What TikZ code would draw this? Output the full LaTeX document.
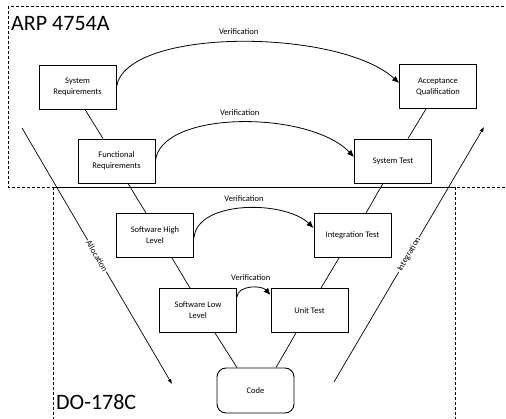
\documentclass[tikz,border=0pt]{standalone}
\usepackage{fontspec}
\setmainfont{Carlito}
\usetikzlibrary{arrows.meta}
\begin{document}
\begin{tikzpicture}[x=1pt,y=-1pt,
  stagebox/.style={draw,line width=0.9pt,fill=white,minimum width=77pt,minimum height=44pt,
    align=center,inner sep=2pt,font=\fontsize{8.5}{11}\selectfont},
  codebox/.style={stagebox,rounded corners=9pt,minimum height=45pt},
  link/.style={line width=0.7pt},
  verif/.style={line width=0.8pt,-{Latex[length=7pt,width=6pt]}},
  flow/.style={line width=0.7pt,-{Latex[length=5pt,width=4pt]}},
  lbl/.style={font=\fontsize{8.5}{10}\selectfont,inner sep=1pt},
  region/.style={draw,line width=0.8pt,dash pattern=on 3pt off 2pt},
  regionname/.style={font=\fontsize{22}{24}\selectfont,anchor=west,inner sep=0pt}]
\useasboundingbox (0,0) rectangle (506,419);
\begin{scope}
  \clip (0,0) rectangle (506,419);
  % standard regions
  \draw[region] (8,6) rectangle (530,187);
  \draw[region] (53,187) rectangle (455,440);
\end{scope}
\node[regionname] (arp) at (11,24) {ARP 4754A};
\node[regionname] (do) at (56,402) {DO-178C};

% left leg of the V
\node[stagebox] (sr) at (77.5,87) {System\\Requirements};
\node[stagebox] (fr) at (116.5,161) {Functional\\Requirements};
\node[stagebox] (sh) at (155,235.5) {Software High\\Level};
\node[stagebox] (sl) at (198,310.5) {Software Low\\Level};
% bottom
\node[codebox] (code) at (255.5,390.5) {Code};
% right leg of the V
\node[stagebox] (ut) at (309.5,310.5) {Unit Test};
\node[stagebox] (it) at (352.5,235.5) {Integration Test};
\node[stagebox] (st) at (393,161) {System Test};
\node[stagebox] (aq) at (438,86.5) {Acceptance\\Qualification};

% links down the left leg
\draw[link] ([xshift=7.5pt]sr.south) -- ([xshift=-13.5pt]fr.north);
\draw[link] ([xshift=11.5pt]fr.south) -- ([xshift=-9pt]sh.north);
\draw[link] ([xshift=17pt]sh.south) -- ([xshift=-8pt]sl.north);
\draw[link] ([xshift=17pt]sl.south) -- ([xshift=-18.5pt]code.north);
% links up the right leg
\draw[link] ([xshift=20.5pt]code.north) -- ([xshift=-13.5pt]ut.south);
\draw[link] ([xshift=11.5pt]ut.north) -- ([xshift=-13.5pt]it.south);
\draw[link] ([xshift=13.5pt]it.north) -- ([xshift=-10pt]st.south);
\draw[link] ([xshift=15pt]st.north) -- ([xshift=-12pt]aq.south);

% verification arcs
\draw[verif] (sr.east) .. controls +(9,-60) and +(-60,-55) .. ([yshift=3.5pt]aq.west)
  node[lbl,pos=0.5,above=6pt] (v1) {Verification};
\draw[verif] (fr.east) .. controls +(5,-51) and +(-45,-47) .. ([yshift=4pt]st.west)
  node[lbl,pos=0.5,above=5pt] (v2) {Verification};
\draw[verif] ([yshift=-2.5pt]sh.east) .. controls +(3,-38) and +(-29,-28) .. ([yshift=7.5pt]it.west)
  node[lbl,pos=0.5,above=5pt] (v3) {Verification};
\draw[verif] ([yshift=13.5pt]sl.east) .. controls +(1,-12) and +(-9,-10) .. ([yshift=15.5pt]ut.west)
  node[lbl,pos=0.5,above=6pt] (v4) {Verification};

% allocation and integration flows
\coordinate (allocA) at (22,128);
\coordinate (allocB) at (172,384);
\coordinate (integA) at (334,382);
\coordinate (integB) at (484,127);
\draw[flow] (allocA) -- node[lbl,sloped,fill=white] (alloc) {Allocation} (allocB);
\draw[flow] (integA) -- node[lbl,sloped,fill=white] (integ) {Integration} (integB);
\end{tikzpicture}
\end{document}
